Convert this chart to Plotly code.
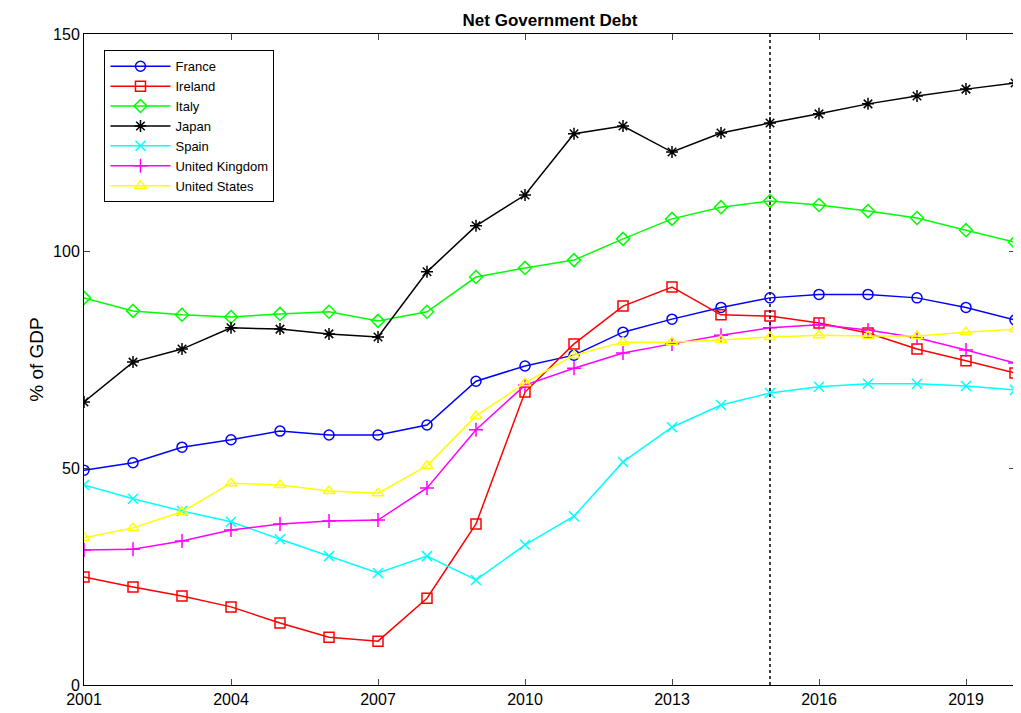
import plotly.graph_objects as go

years = list(range(2001, 2021))
france = [49.5,51.2,54.8,56.5,58.5,57.6,57.6,59.9,70,73.5,76,81.3,84.3,87,89.2,90,90,89.2,87,84.1]
ireland = [24.9,22.6,20.5,18,14.3,11,10.1,20,37.1,67.5,78.6,87.3,91.7,85.3,85,83.4,81.1,77.4,74.7,71.9]
italy = [89.2,86.2,85.3,84.8,85.5,86,83.9,86,94,96.1,97.9,102.8,107.4,110.1,111.5,110.6,109.2,107.6,104.8,102]
japan = [65.2,74.4,77.4,82.3,82,80.9,80.2,95.2,105.8,112.9,127,128.8,122.8,127.2,129.5,131.6,133.9,135.7,137.3,138.7]
spain = [46.1,42.9,40.1,37.6,33.6,29.7,25.8,29.7,24.2,32.3,38.9,51.4,59.4,64.5,67.3,68.7,69.4,69.4,68.9,68]
uk = [31.1,31.3,33.2,35.7,37.1,37.8,38,45.4,58.8,69.1,73,76.5,78.6,80.6,82.3,83,81.8,80,77.2,74.2]
us = [33.9,36.2,39.9,46.5,46.1,44.7,44.2,50.5,62,69.6,76,79,79,79.5,80.2,80.6,80.4,80.4,81.3,82]

series = [
    ("France", france, "#0000ff", "circle-open"),
    ("Ireland", ireland, "#ff0000", "square-open"),
    ("Italy", italy, "#00ff00", "diamond-open"),
    ("Japan", japan, "#000000", "asterisk-open"),
    ("Spain", spain, "#00ffff", "x-thin-open"),
    ("United Kingdom", uk, "#ff00ff", "cross-thin-open"),
    ("United States", us, "#ffff00", "triangle-up-open"),
]

fig = go.Figure()
for name, vals, col, sym in series:
    fig.add_trace(go.Scatter(x=years, y=vals, name=name, mode="lines+markers",
                             line=dict(color=col, width=1.5),
                             marker=dict(symbol=sym, size=10, color=col, line=dict(color=col, width=1.5))))

fig.add_shape(type="line", x0=2015, x1=2015, y0=0, y1=150, xref="x", yref="y",
              line=dict(color="black", width=1.5, dash="dot"))

fig.update_layout(
    width=1013, height=705, paper_bgcolor="white", plot_bgcolor="white",
    margin=dict(l=76, r=6, t=26, b=28),
    font=dict(family="Liberation Sans, Arial", size=16, color="black"),
    title=dict(text="<b>Net Government Debt</b>", x=0.535, xanchor="center", y=0.992, yanchor="top",
               font=dict(size=17)),
    showlegend=True,
    legend=dict(x=0.022, y=0.975, xanchor="left", yanchor="top", bordercolor="black", borderwidth=1,
                bgcolor="white", font=dict(size=13), tracegroupgap=0, itemwidth=60),
)
fig.update_xaxes(range=[2001, 2020], tickvals=[2001, 2004, 2007, 2010, 2013, 2016, 2019],
                 ticks="inside", ticklen=6, showline=True, mirror="ticks", linecolor="black",
                 showgrid=False, zeroline=False, automargin=False)
fig.update_yaxes(range=[0, 150], tickvals=[0, 50, 100, 150], title=dict(text="% of GDP", standoff=4),
                 ticks="inside", ticklen=6, showline=True, mirror="ticks", linecolor="black",
                 showgrid=False, zeroline=False, automargin=False)
fig.write_html("out.html")
